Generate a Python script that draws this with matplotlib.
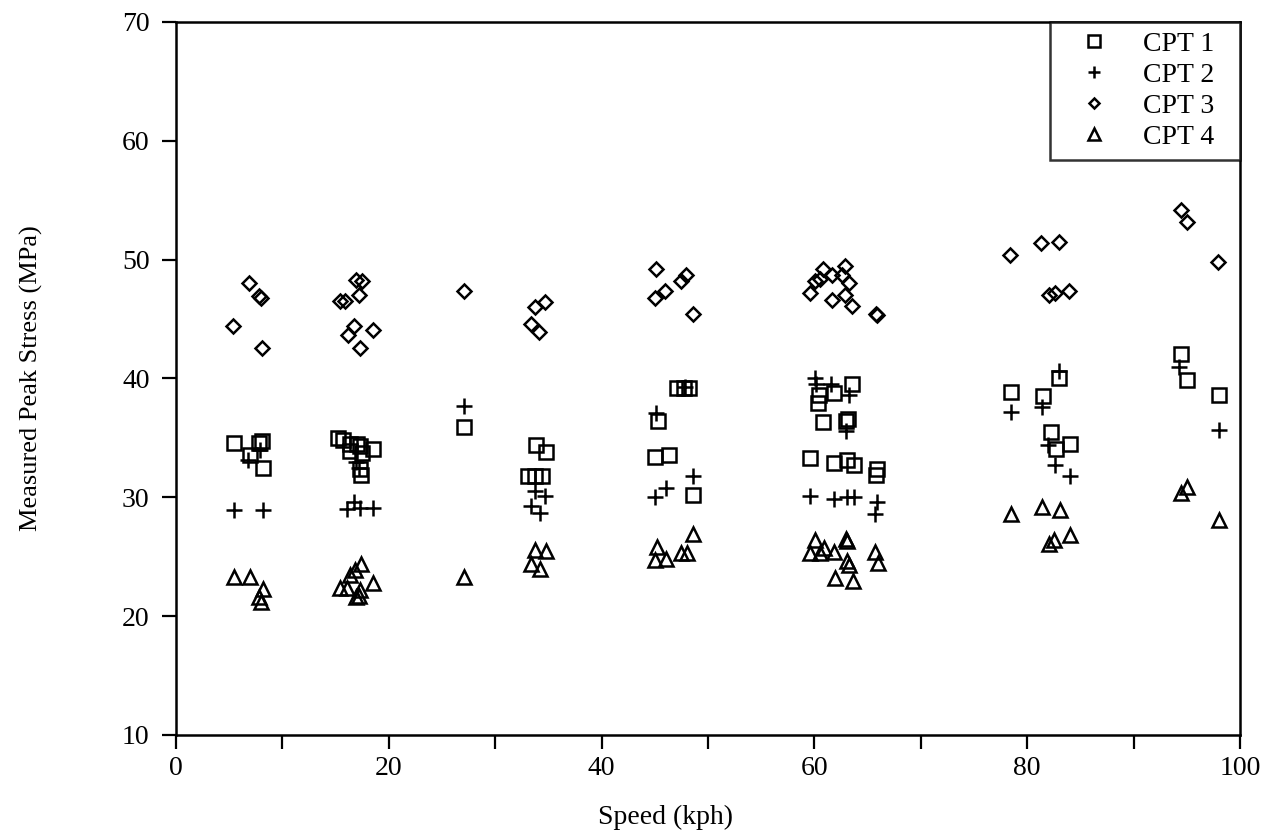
import numpy as np
import matplotlib
matplotlib.use("Agg")
import matplotlib.pyplot as plt

plt.rcParams['font.family'] = ['Liberation Serif', 'DejaVu Serif']

# CPT 1 (squares)
speed1 = [5.45, 6.95, 7.8, 8.05, 8.2,
          15.25, 15.7, 16.35, 17.0, 17.3, 16.35, 17.45, 18.55, 17.3, 17.4,
          27.1, 33.8, 34.8, 33.1, 33.7, 34.4,
          45.3, 45.0, 46.3, 48.6, 47.1, 47.7, 48.2,
          59.6, 61.8, 63.1, 63.7, 65.9, 65.8, 60.4, 60.3, 61.8, 63.5, 60.8, 63.0, 63.2,
          78.5, 81.5, 83.0, 82.2, 82.7, 84.0,
          94.5, 95.0, 98.0]
stress1 = [34.55, 33.6, 34.55, 34.7, 32.5,
           35.0, 34.8, 34.5, 34.5, 34.3, 33.9, 33.7, 34.1, 32.4, 31.9,
           35.9, 34.4, 33.8, 31.8, 31.8, 31.8,
           36.4, 33.4, 33.6, 30.2, 39.2, 39.2, 39.2,
           33.3, 32.9, 33.1, 32.7, 32.4, 31.9, 38.6, 37.9, 38.8, 39.5, 36.3, 36.4, 36.6,
           38.9, 38.5, 40.0, 35.5, 34.1, 34.5,
           42.1, 39.9, 38.6]

# CPT 2 (plus)
speed2 = [6.8, 7.9, 5.45, 8.15,
          16.05, 16.7, 17.3, 18.55, 16.9, 17.2,
          27.1, 33.7, 34.7, 33.4, 34.2,
          45.1, 45.0, 46.1, 48.6, 47.8,
          60.1, 60.2, 61.6, 63.3, 63.0, 59.6, 61.8, 63.1, 63.7, 65.9, 65.7,
          78.5, 81.4, 83.0, 82.0, 82.6, 84.0,
          94.3, 98.0]
stress2 = [33.1, 34.0, 28.9, 28.9,
           29.0, 29.6, 29.1, 29.1, 33.0, 32.5,
           37.7, 30.5, 30.1, 29.3, 28.7,
           37.1, 30.0, 30.8, 31.8, 39.3,
           40.0, 39.5, 39.5, 38.6, 35.6, 30.1, 29.9, 30.0, 30.0, 29.6, 28.6,
           37.2, 37.6, 40.6, 34.4, 32.7, 31.8,
           41.0, 35.7]

# CPT 3 (diamonds)
speed3 = [6.9, 7.8, 8.0, 5.4, 8.1,
          16.9, 17.5, 15.4, 15.9, 17.2, 16.7, 16.2, 18.5, 17.3,
          27.1, 33.7, 34.7, 33.4, 34.1,
          45.1, 45.0, 46.0, 47.5, 47.9, 48.6,
          59.6, 60.1, 60.5, 60.8, 61.7, 62.9, 62.6, 63.3, 61.7, 62.9, 63.5, 65.8, 65.9,
          78.4, 81.3, 83.0, 82.1, 82.6, 83.9,
          94.5, 95.0, 97.9]
stress3 = [48.0, 46.9, 46.8, 44.4, 42.6,
           48.3, 48.2, 46.5, 46.5, 47.0, 44.4, 43.7, 44.1, 42.6,
           47.4, 46.0, 46.4, 44.6, 43.9,
           49.2, 46.8, 47.4, 48.2, 48.7, 45.4,
           47.2, 48.2, 48.4, 49.2, 48.7, 49.5, 48.7, 48.0, 46.6, 47.0, 46.1, 45.4, 45.3,
           50.4, 51.4, 51.5, 47.0, 47.2, 47.4,
           54.2, 53.2, 49.8]

# CPT 4 (triangles)
speed4 = [5.45, 6.95, 8.2, 7.8, 7.95,
          17.4, 16.8, 16.35, 15.4, 16.05, 18.55, 17.3, 17.2, 16.9,
          27.1, 33.7, 34.8, 33.4, 34.2,
          48.6, 45.2, 45.0, 46.1, 47.5, 48.0,
          60.1, 59.6, 60.5, 60.9, 61.8, 63.0, 63.1, 63.1, 63.3, 61.9, 63.6, 65.7, 66.0,
          78.5, 81.4, 83.1, 82.1, 82.5, 84.0,
          94.5, 95.0, 98.0]
stress4 = [23.3, 23.3, 22.3, 21.6, 21.2,
           24.4, 23.9, 23.5, 22.4, 22.4, 22.8, 22.2, 21.7, 21.6,
           23.3, 25.6, 25.5, 24.4, 24.0,
           26.9, 25.8, 24.7, 24.8, 25.3, 25.3,
           26.4, 25.3, 25.3, 25.7, 25.4, 26.5, 26.3, 24.6, 24.3, 23.2, 23.0, 25.4, 24.5,
           28.6, 29.2, 28.9, 26.1, 26.4, 26.8,
           30.4, 30.9, 28.1]

labels = ["CPT 1", "CPT 2", "CPT 3", "CPT 4"]

fig = plt.figure(figsize=(12.69, 8.32), dpi=100)
ax = fig.add_axes([0.1387, 0.1166, 0.8384, 0.857])

ax.plot(speed1, stress1, linestyle="none", marker="s", ms=10, mfc="none",
        mec="black", mew=1.8, label=labels[0])
ax.plot(speed2, stress2, linestyle="none", marker="+", ms=11, mec="black",
        mew=1.8, label=labels[1])
ax.plot(speed3, stress3, linestyle="none", marker="D", ms=6.8, mfc="none",
        mec="black", mew=1.8, label=labels[2])
ax.plot(speed4, stress4, linestyle="none", marker="^", ms=10.5, mfc="none",
        mec="black", mew=1.8, label=labels[3])

ax.set_xlim(0, 100)
ax.set_ylim(10, 70)
ax.set_xticks(np.arange(0, 101, 20))
ax.set_xticks(np.arange(10, 100, 20), minor=True)
ax.set_yticks(np.arange(10, 71, 10))
ax.tick_params(axis="both", which="both", direction="out", length=10, width=1.6,
               labelsize=20, colors="black")
ax.tick_params(axis="x", pad=5)
ax.tick_params(axis="y", pad=9)
for sp in ax.spines.values():
    sp.set_linewidth(1.8)

ax.set_xlabel("Speed (kph)", fontsize=20)
ax.set_ylabel("Measured Peak Stress (MPa)", fontsize=19)
ax.xaxis.set_label_coords(0.4605, -0.098)
ax.yaxis.set_label_coords(-0.125, 0.5)

leg = ax.legend(loc="upper right", bbox_to_anchor=(0.8214, 0, 1 - 0.8214, 1),
                mode="expand", fontsize=20, frameon=True, fancybox=False,
                borderaxespad=0, handletextpad=0.5, borderpad=0.35,
                labelspacing=0.2, handlelength=2.5, markerscale=0.8)
leg.get_frame().set_edgecolor("black")
leg.get_frame().set_linewidth(1.8)

fig.savefig("out.png", dpi=100, facecolor="white")
